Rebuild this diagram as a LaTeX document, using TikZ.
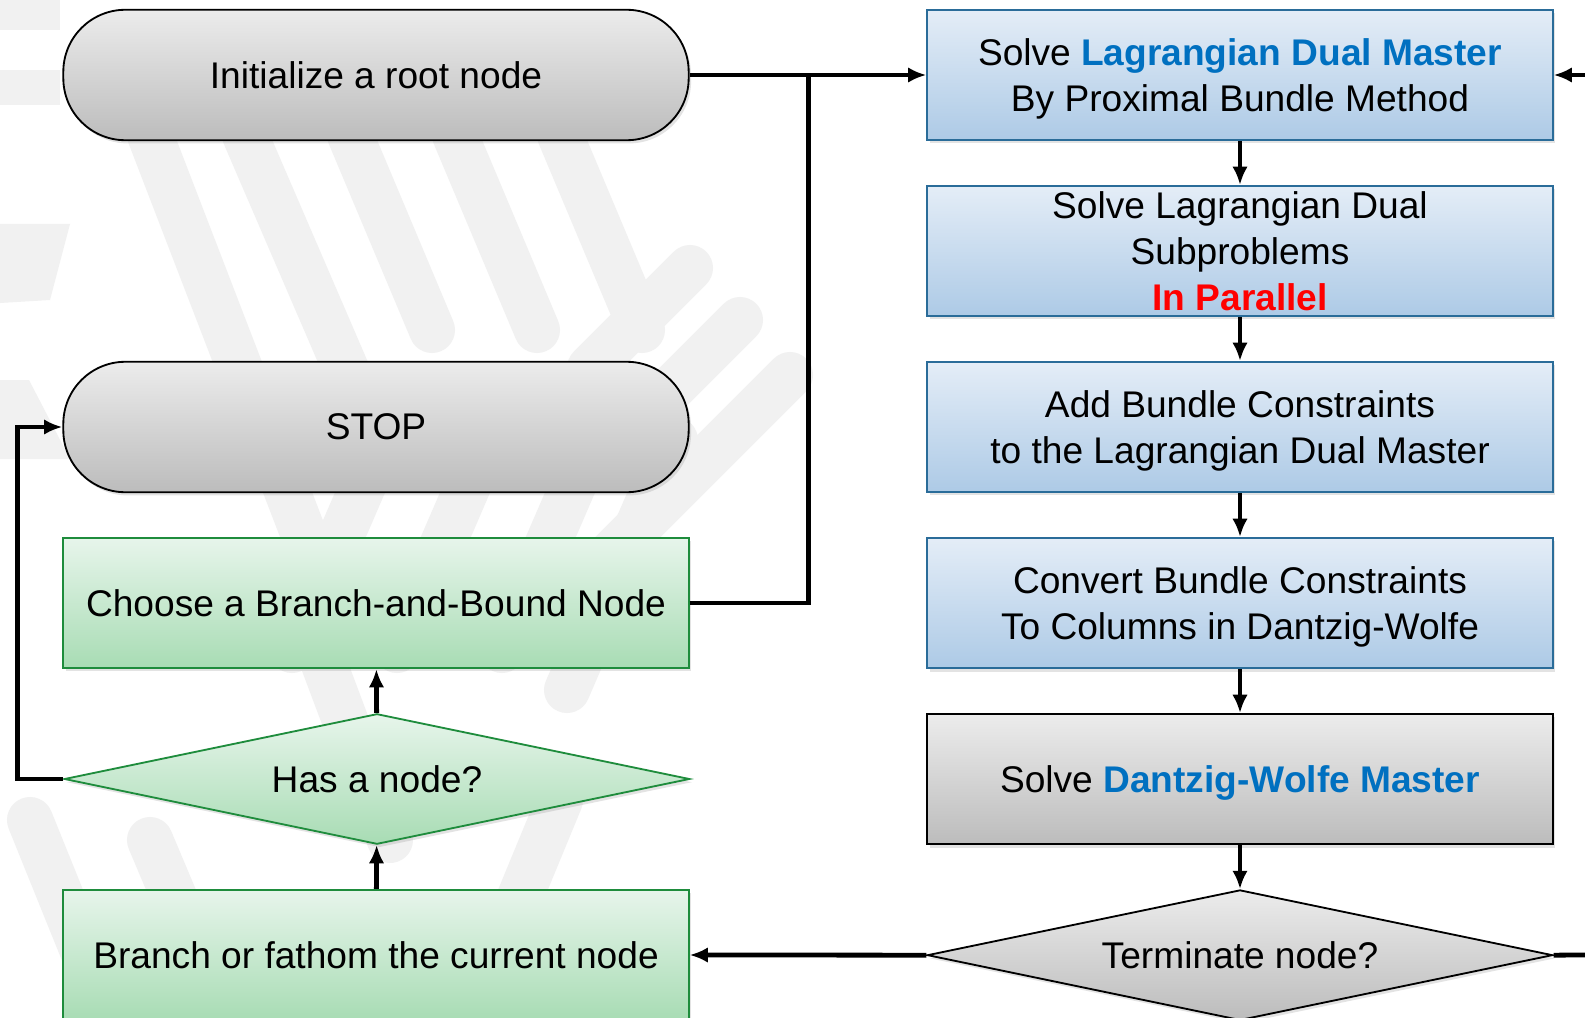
\documentclass[tikz,border=0pt]{standalone}
\usepackage{fontspec}
\setmainfont{Liberation Sans}
\usepackage{tikz}
\usetikzlibrary{shapes.geometric, arrows.meta, positioning, shadows, calc}
\definecolor{dwblue}{HTML}{0070C0}
\definecolor{boxedge}{HTML}{2A6C99}
\definecolor{greenedge}{HTML}{1E8C3C}
\definecolor{bluetop}{HTML}{E4EDF7}
\definecolor{bluebot}{HTML}{ADCAE6}
\definecolor{greentop}{HTML}{E7F5EB}
\definecolor{greenbot}{HTML}{A8DCB4}
\definecolor{greytop}{HTML}{ECECEC}
\definecolor{greybot}{HTML}{BCBCBC}
\definecolor{wmark}{HTML}{F1F1F1}
\newcommand{\bluebf}[1]{\textbf{\textcolor{dwblue}{#1}}}
\newcommand{\redbf}[1]{\textbf{\textcolor{red}{#1}}}
\tikzset{
  base/.style={minimum width=15.63cm, minimum height=3.26cm, align=center, inner sep=0pt,
    text depth=0pt,
    drop shadow={shadow xshift=0.06cm, shadow yshift=-0.08cm, opacity=0.22}},
  bluebox/.style={base, draw=boxedge, line width=1.3pt, top color=bluetop, bottom color=bluebot},
  greenbox/.style={base, draw=greenedge, line width=1.3pt, top color=greentop, bottom color=greenbot},
  greybox/.style={base, draw=black, line width=1.3pt, top color=greytop, bottom color=greybot},
  terminal/.style={greybox, rounded corners=1.55cm},
  decision/.style={base, diamond},
  wmband/.style={wmark, line width=1.15cm, line cap=round},
  line/.style={line width=3.4pt},
  flow/.style={line, -{Latex[length=13pt, width=11pt]}}
}
\begin{document}
\begin{tikzpicture}[x=0.025cm, y=-0.025cm, font=\fontsize{26.4}{32.6}\selectfont,
    node distance=1.094cm]
  \useasboundingbox (0,0) rectangle (1585,1018);
  \fill[white] (0,0) rectangle (1585,1018);
  % watermark in the background
  \foreach \xa/\ya/\xb/\yb in {150/135/302/530, 245/135/370/425, 350/135/432/330,
      455/135/537/330, 560/135/642/330, 400/400/292/650, 505/400/397/650,
      610/400/502/650, 675/440/567/690, 690/268/590/368, 740/320/600/460,
      790/375/600/565, 30/820/110/1018, 150/840/225/1018, 560/800/470/1018,
      300/600/390/840}{%
    \draw[wmband] (\xa,\ya) -- (\xb,\yb);
  }
  \fill[wmark] (0,224) -- (70,224) -- (50,300) -- (0,303) -- cycle;
  \fill[wmark] (0,380) -- (29,380) -- (70,459) -- (0,459) -- cycle;
  \fill[wmark] (0,0) rectangle (60,30);
  \fill[wmark] (0,70) rectangle (60,105);

  % left column
  \node[terminal] (init) at (376,75) {Initialize a root node};
  \node[terminal] (stop) at (376,427) {STOP};
  \node[greenbox] (choose) at (376,603) {Choose a Branch-and-Bound Node};
  \node[decision, draw=greenedge, line width=1.3pt, top color=greentop, bottom color=greenbot,
    label=center:{Has a node?}] (hasnode) at (377,779) {};
  \node[greenbox] (branch) at (376,955) {Branch or fathom the current node};

  % right column
  \node[bluebox] (lagmaster) at (1240,75)
    {Solve \bluebf{Lagrangian Dual Master}\\By Proximal Bundle Method};
  \node[bluebox, below=of lagmaster] (subprob)
    {Solve Lagrangian Dual\\Subproblems\\\redbf{In Parallel}};
  \node[bluebox, below=of subprob] (addcut)
    {Add Bundle Constraints\\to the Lagrangian Dual Master};
  \node[bluebox, below=of addcut] (convert)
    {Convert Bundle Constraints\\To Columns in Dantzig-Wolfe};
  \node[greybox, below=of convert] (dwmaster) {Solve \bluebf{Dantzig-Wolfe Master}};
  \node[decision, draw=black, line width=1.3pt, top color=greytop, bottom color=greybot,
    below=of dwmaster, label=center:{Terminate node?}] (term) {};

  \coordinate (jn) at (808.6,75);
  \coordinate (inR) at (1585,75);
  \coordinate (outR) at (1585,955);
  \coordinate (lp) at (17.2,779);

  % connectors
  \draw[flow] (init.east) -- (lagmaster.west);
  \draw[line] (choose.east) -| (jn);
  \draw[flow] (inR) -- (lagmaster.east);
  \draw[flow] (lagmaster) -- (subprob);
  \draw[flow] (subprob) -- (addcut);
  \draw[flow] (addcut) -- (convert);
  \draw[flow] (convert) -- (dwmaster);
  \draw[flow] (dwmaster) -- (term);
  \draw[line] (term.east) -- (outR);
  \draw[flow] (term.west) -- (branch.east);
  \draw[flow] (branch) -- (hasnode);
  \draw[flow] (hasnode) -- (choose);
  \draw[flow] (hasnode.west) -- (lp) |- (stop.west);
\end{tikzpicture}
\end{document}
